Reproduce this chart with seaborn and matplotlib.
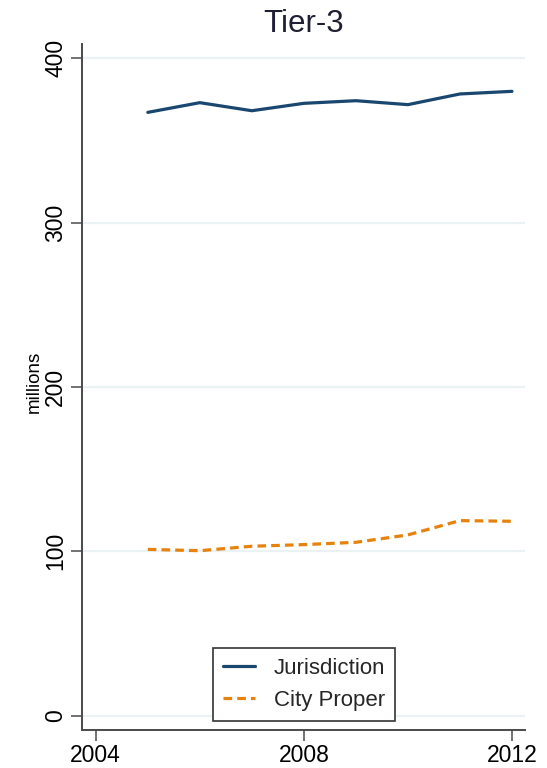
import matplotlib
matplotlib.use("Agg")
import matplotlib.pyplot as plt
import seaborn as sns
import pandas as pd

# Population (millions), tier-3 cities
years = [2005, 2006, 2007, 2008, 2009, 2010, 2011, 2012]
jurisdiction = [367.1, 373.0, 368.1, 372.6, 374.2, 371.8, 378.3, 379.9]
city_proper = [101.2, 100.4, 103.1, 104.1, 105.5, 110.0, 118.7, 118.3]
series_names = ["Jurisdiction", "City Proper"]
x_ticks = [2004, 2008, 2012]
y_ticks = [0, 100, 200, 300, 400]

navy = "#1a476f"
orange = "#e6820e"
grid_col = "#eaf2f3"
axis_col = "#4a4a4a"

sns.set_theme(style="white")
plt.rcParams["font.family"] = ["Liberation Sans", "DejaVu Sans"]

df = pd.DataFrame({
    "year": years * 2,
    "value": jurisdiction + city_proper,
    "series": [series_names[0]] * len(years) + [series_names[1]] * len(years),
})

fig = plt.figure(figsize=(5.47, 7.68), dpi=100)
ax = fig.add_axes([81.7 / 547, 1 - 730 / 768, (525 - 81.7) / 547, (730 - 44) / 768])

sns.lineplot(data=df, x="year", y="value", hue="series", style="series",
             palette={series_names[0]: navy, series_names[1]: orange},
             dashes={series_names[0]: "", series_names[1]: (2.7, 1.6)},
             linewidth=2.3, ax=ax, legend=True)

ax.set_xlim(2003.73, 2012.25)
ax.set_ylim(-8.7, 408.7)
ax.set_xticks(x_ticks)
ax.set_yticks(y_ticks)
ax.set_xlabel("")
ax.set_ylabel("millions", fontsize=13.5, color="black")
ax.yaxis.set_label_coords((43 - 81.7) / 443.3, 0.507)
ax.set_title("Tier-3", fontsize=22.5, color="#1f1f33", pad=9)

ax.yaxis.grid(True, color=grid_col, linewidth=1.6)
ax.xaxis.grid(False)
ax.set_axisbelow(True)

for side in ("top", "right"):
    ax.spines[side].set_visible(False)
for side in ("left", "bottom"):
    ax.spines[side].set_color(axis_col)
    ax.spines[side].set_linewidth(1.4)

ax.tick_params(axis="both", direction="out", length=8, width=1.1,
               color=axis_col, labelsize=16.5, labelcolor="black",
               left=True, bottom=True)
ax.tick_params(axis="y", pad=2.5)
ax.tick_params(axis="x", pad=2)
for lab in ax.get_yticklabels():
    lab.set_rotation(90)
    lab.set_va("center")
    lab.set_ha("right")

handles, labels = ax.get_legend_handles_labels()
leg = ax.legend(handles, labels, loc="lower left",
                bbox_to_anchor=((212.7 - 81.7) / (525 - 81.7), (730 - 720.7) / 686),
                borderaxespad=0, fontsize=16, frameon=True, fancybox=False,
                handlelength=1.45, handletextpad=0.85, labelspacing=0.5,
                borderpad=0.45)
frame = leg.get_frame()
frame.set_edgecolor("#333333")
frame.set_linewidth(1.2)
frame.set_facecolor("white")
frame.set_alpha(1)

fig.savefig("out.png", dpi=100, facecolor="white")
